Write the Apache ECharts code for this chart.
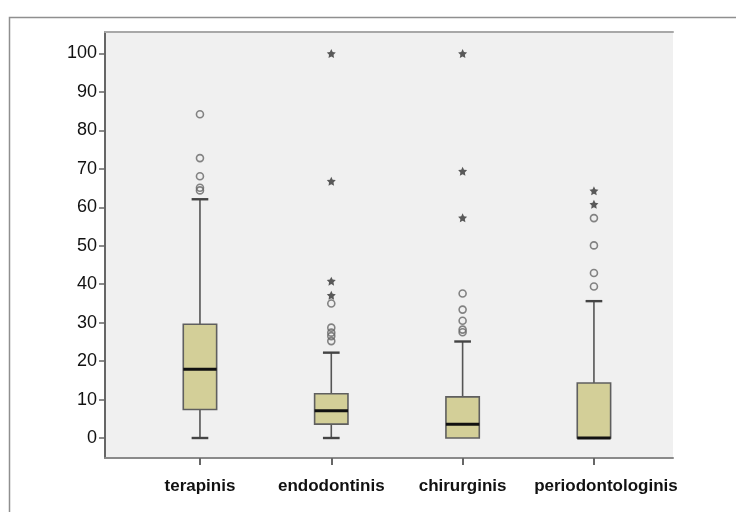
<!DOCTYPE html>
<html>
<head>
<meta charset="utf-8">
<script src="https://cdn.jsdelivr.net/npm/echarts@6/dist/echarts.min.js"></script>
<style>
  html, body { margin: 0; padding: 0; background: #fff; }
  #chart { width: 736px; height: 512px; }
</style>
</head>
<body>
<div id="chart"></div>
<script>
// data
const categories = ['terapinis', 'endodontinis', 'chirurginis', 'periodontologinis']
const whiskerLow = [0, 0, 0, 0]
const q1 = [7.4, 3.6, 0, 0]
const median = [17.9, 7.1, 3.6, 0]
const q3 = [29.6, 11.5, 10.7, 14.3]
const whiskerHigh = [62.1, 22.2, 25.1, 35.6]
const circleOutliers = [
  [84.2, 72.8, 68.1, 65.1, 64.4],
  [35.0, 28.7, 27.4, 26.5, 25.2],
  [37.6, 33.4, 30.5, 28.2, 27.5],
  [57.2, 50.1, 42.9, 39.4]
]
const starOutliers = [
  [],
  [100, 66.8, 40.8, 37.1],
  [100, 69.4, 57.3],
  [64.3, 60.8]
]
const yTicks = [0, 10, 20, 30, 40, 50, 60, 70, 80, 90, 100]

const yMin = -5.2
const yMax = 105.6

const boxData = categories.map((c, i) => [i, whiskerLow[i], q1[i], median[i], q3[i], whiskerHigh[i]])
const circleData = []
circleOutliers.forEach((list, i) => list.forEach(v => circleData.push([i, v])))
const starData = []
starOutliers.forEach((list, i) => list.forEach(v => starData.push([i, v])))

const starPath = 'path://M0,-10 L2.9,-4 L9.5,-3.1 L4.7,1.5 L5.9,8.1 L0,5 L-5.9,8.1 L-4.7,1.5 L-9.5,-3.1 L-2.9,-4 Z'

// 箱线图自己画：半宽的须端
function renderBox (params, api) {
  const idx = api.value(0)
  const band = api.size([1, 0])[0]
  const w = band * 0.254
  const cap = w / 2
  const x = api.coord([idx, 0])[0]
  const yLo = api.coord([idx, api.value(1)])[1]
  const yQ1 = api.coord([idx, api.value(2)])[1]
  const yMed = api.coord([idx, api.value(3)])[1]
  const yQ3 = api.coord([idx, api.value(4)])[1]
  const yHi = api.coord([idx, api.value(5)])[1]
  const whisk = { stroke: '#555', lineWidth: 1.6 }
  const capStyle = { stroke: '#444', lineWidth: 2.4 }
  const children = []
  if (yHi < yQ3) {
    children.push({ type: 'line', shape: { x1: x, y1: yQ3, x2: x, y2: yHi }, style: whisk })
    children.push({ type: 'line', shape: { x1: x - cap / 2, y1: yHi, x2: x + cap / 2, y2: yHi }, style: capStyle })
  }
  if (yLo > yQ1) {
    children.push({ type: 'line', shape: { x1: x, y1: yQ1, x2: x, y2: yLo }, style: whisk })
    children.push({ type: 'line', shape: { x1: x - cap / 2, y1: yLo, x2: x + cap / 2, y2: yLo }, style: capStyle })
  }
  children.push({
    type: 'rect',
    shape: { x: x - w / 2, y: yQ3, width: w, height: yQ1 - yQ3 },
    style: { fill: '#d3cf98', stroke: '#5f5f5f', lineWidth: 1.6 }
  })
  children.push({
    type: 'line',
    shape: { x1: x - w / 2, y1: yMed, x2: x + w / 2, y2: yMed },
    style: { stroke: '#111', lineWidth: 3 }
  })
  return { type: 'group', children }
}

const chart = echarts.init(document.getElementById('chart'), null, { renderer: 'canvas' })

const option = {
  backgroundColor: '#fff',
  animation: false,
  graphic: [
    {
      type: 'rect',
      left: 7,
      top: 15,
      shape: { width: 760, height: 520 },
      style: { fill: 'none', stroke: '#8f8f8f', lineWidth: 1.5 },
      silent: true,
      z: -10
    }
  ],
  grid: [
    { left: 105, top: 32, right: 63, height: 426, show: true, backgroundColor: '#f0f0f0', borderWidth: 0 },
    { left: 134.3, top: 32, width: 525.3, height: 426 }
  ],
  xAxis: [
    {
      gridIndex: 0, type: 'value', min: 0, max: 1, position: 'bottom',
      axisLine: { show: true, onZero: false, lineStyle: { color: '#8a8a8a', width: 2 } },
      axisTick: { show: false }, axisLabel: { show: false }, splitLine: { show: false }
    },
    {
      gridIndex: 0, type: 'value', min: 0, max: 1, position: 'top',
      axisLine: { show: true, onZero: false, lineStyle: { color: '#a8a8a8', width: 2 } },
      axisTick: { show: false }, axisLabel: { show: false }, splitLine: { show: false }
    },
    {
      gridIndex: 1, type: 'category', data: categories, boundaryGap: true, position: 'bottom',
      axisLine: { show: false, onZero: false },
      axisTick: { show: true, alignWithLabel: true, length: 7, lineStyle: { color: '#666', width: 2 } },
      axisLabel: {
        margin: 20,
        fontSize: 17,
        fontWeight: 'bold',
        fontFamily: 'Liberation Sans, Arial, sans-serif',
        color: '#111',
        interval: 0,
        formatter: (v, i) => i === categories.length - 1 ? '{last|' + v + '}' : v,
        rich: {
          last: {
            fontSize: 17,
            fontWeight: 'bold',
            fontFamily: 'Liberation Sans, Arial, sans-serif',
            color: '#111',
            padding: [0, 0, 0, 24]
          }
        }
      },
      splitLine: { show: false }
    }
  ],
  yAxis: [
    {
      gridIndex: 0, type: 'value', min: yMin, max: yMax,
      axisLine: { show: true, onZero: false, lineStyle: { color: '#666', width: 2 } },
      axisTick: { show: true, length: 6, customValues: yTicks, lineStyle: { color: '#666', width: 1.5 } },
      axisLabel: {
        customValues: yTicks,
        margin: 8,
        fontSize: 18,
        fontFamily: 'Liberation Sans, Arial, sans-serif',
        color: '#111'
      },
      splitLine: { show: false }
    },
    { gridIndex: 1, type: 'value', min: yMin, max: yMax, show: false, splitLine: { show: false } }
  ],
  series: [
    {
      type: 'custom',
      xAxisIndex: 2,
      yAxisIndex: 1,
      renderItem: renderBox,
      encode: { x: 0, y: [1, 2, 3, 4, 5] },
      data: boxData,
      z: 2
    },
    {
      type: 'scatter',
      xAxisIndex: 2,
      yAxisIndex: 1,
      symbol: 'circle',
      symbolSize: 7,
      itemStyle: { color: 'rgba(0,0,0,0)', borderColor: '#666', borderWidth: 1.6 },
      data: circleData,
      z: 3
    },
    {
      type: 'scatter',
      xAxisIndex: 2,
      yAxisIndex: 1,
      symbol: starPath,
      symbolSize: 9,
      itemStyle: { color: '#333' },
      data: starData,
      z: 4
    }
  ]
}
chart.setOption(option)
</script>
</body>
</html>
